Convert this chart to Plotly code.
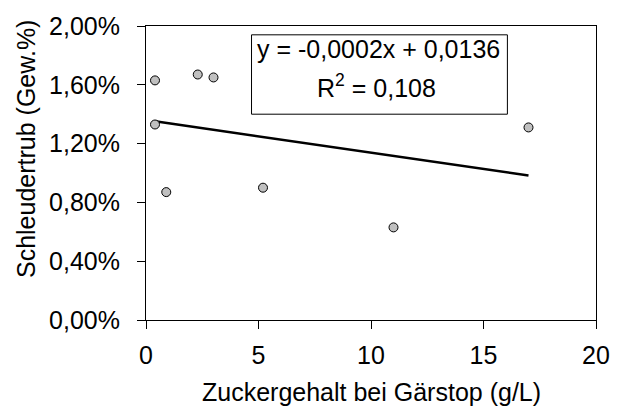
import numpy as np
import plotly.graph_objects as go

# Data
zucker = [0.4, 0.4, 0.9, 2.3, 3.0, 5.2, 11.0, 17.0]          # g/L
trub = [0.0163, 0.0133, 0.0087, 0.0167, 0.0165, 0.0090, 0.0063, 0.0131]
x_ticks = [0, 5, 10, 15, 20]
y_ticks = [0, 0.004, 0.008, 0.012, 0.016, 0.020]
eq_line1 = "y = -0,0002x + 0,0136"
eq_line2 = "R<sup>2</sup> = 0,108"

# linear trendline
slope, intercept = np.polyfit(zucker, trub, 1)
tx = np.array([min(zucker), max(zucker)])
ty = slope * tx + intercept

FONT = "Liberation Sans, Arial, sans-serif"
FS = 25

fig = go.Figure()
fig.add_trace(go.Scatter(
    x=tx, y=ty, mode="lines",
    line=dict(color="black", width=2.5),
    hoverinfo="skip", showlegend=False))
fig.add_trace(go.Scatter(
    x=zucker, y=trub, mode="markers",
    marker=dict(size=9, color="#c0c0c0", line=dict(color="black", width=1)),
    showlegend=False))

# plot area pixel geometry
L, R, T, B = 146, 598, 20, 320
W, H = 622, 409
pw, ph = R - L, B - T

def px(x):
    return (x - L) / pw

def py(y):
    return (B - y) / ph

fig.update_layout(
    width=W, height=H,
    margin=dict(l=L, r=W - R, t=T, b=H - B),
    paper_bgcolor="white", plot_bgcolor="white",
    separators=",.",
    font=dict(family=FONT, size=FS, color="black"),
    xaxis=dict(
        range=[0, 20], tickvals=x_ticks, showgrid=False, zeroline=False,
        showline=True, linecolor="black", linewidth=1, mirror=True,
        ticks="outside", ticklen=8, tickcolor="black", tickwidth=1,
        tickfont=dict(size=FS), ticklabelstandoff=5,
    ),
    yaxis=dict(
        range=[0, 0.02], tickvals=y_ticks, tickformat=".2%",
        showgrid=False, zeroline=False,
        showline=True, linecolor="black", linewidth=1, mirror=True,
        ticks="outside", ticklen=8, tickcolor="black", tickwidth=1,
        tickfont=dict(size=FS), ticklabelstandoff=12,
    ),
    shapes=[dict(
        type="rect", xref="paper", yref="paper",
        x0=px(252), x1=px(509), y0=py(110), y1=py(29),
        line=dict(color="black", width=1), fillcolor="white", layer="below")],
    annotations=[
        dict(text=eq_line1, xref="paper", yref="paper", x=px(380), y=py(43),
             xanchor="center", yanchor="middle", showarrow=False, font=dict(size=FS)),
        dict(text=eq_line2, xref="paper", yref="paper", x=px(378), y=py(81),
             xanchor="center", yanchor="middle", showarrow=False, font=dict(size=FS)),
        dict(text="Schleudertrub (Gew.%)", xref="paper", yref="paper",
             x=px(26), y=py(146), textangle=-90,
             xanchor="center", yanchor="middle", showarrow=False, font=dict(size=FS)),
        dict(text="Zuckergehalt bei Gärstop (g/L)", xref="paper", yref="paper",
             x=px(372), y=py(393),
             xanchor="center", yanchor="middle", showarrow=False, font=dict(size=FS)),
    ],
)

fig.write_html("out.html")
